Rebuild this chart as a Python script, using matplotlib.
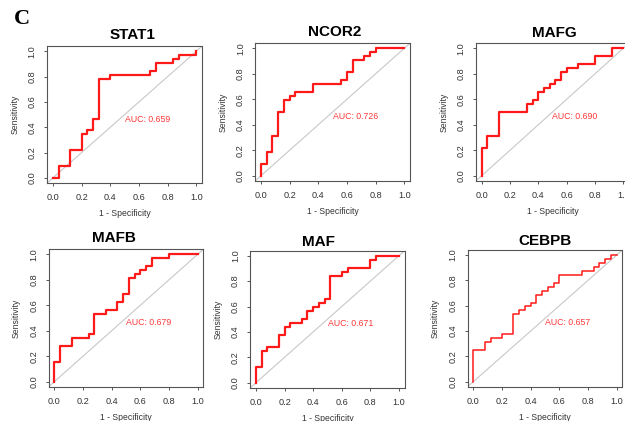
import numpy as np
import matplotlib
matplotlib.use("Agg")
import matplotlib.pyplot as plt

plt.rcParams['font.family'] = ['Liberation Sans', 'DejaVu Sans']

# ROC curves (1 - specificity, sensitivity)
stat1_fpr = [0, 0.04, 0.12, 0.20, 0.24, 0.28, 0.32, 0.40, 0.68, 0.72, 0.84, 0.88, 1.0]
stat1_tpr = [0, 0.094, 0.219, 0.344, 0.375, 0.469, 0.781, 0.812, 0.844, 0.906, 0.938, 0.969, 1.0]

ncor2_fpr = [0, 0, 0.04, 0.08, 0.12, 0.16, 0.20, 0.24, 0.36, 0.56, 0.60, 0.64, 0.72, 0.76, 0.80, 1.0]
ncor2_tpr = [0, 0.094, 0.188, 0.312, 0.5, 0.594, 0.625, 0.656, 0.719, 0.75, 0.812, 0.906, 0.938, 0.969, 1.0, 1.0]

mafg_fpr = [0, 0, 0.04, 0.12, 0.32, 0.36, 0.40, 0.44, 0.48, 0.52, 0.56, 0.60, 0.68, 0.80, 0.92, 1.0]
mafg_tpr = [0, 0.219, 0.312, 0.5, 0.562, 0.594, 0.656, 0.688, 0.719, 0.75, 0.812, 0.844, 0.875, 0.938, 1.0, 1.0]

mafb_fpr = [0, 0, 0.04, 0.12, 0.24, 0.28, 0.36, 0.44, 0.48, 0.52, 0.56, 0.60, 0.64, 0.68, 0.80, 1.0]
mafb_tpr = [0, 0.156, 0.281, 0.344, 0.375, 0.531, 0.562, 0.625, 0.688, 0.812, 0.844, 0.875, 0.906, 0.969, 1.0, 1.0]

maf_fpr = [0, 0, 0.04, 0.08, 0.16, 0.20, 0.24, 0.32, 0.36, 0.40, 0.44, 0.48, 0.52, 0.60, 0.64, 0.80, 0.84, 1.0]
maf_tpr = [0, 0.125, 0.25, 0.281, 0.375, 0.438, 0.469, 0.5, 0.562, 0.594, 0.625, 0.656, 0.844, 0.875, 0.906, 0.969, 1.0, 1.0]

cebpb_fpr = [0, 0, 0.08, 0.12, 0.20, 0.28, 0.32, 0.36, 0.40, 0.44, 0.48, 0.52, 0.56, 0.60, 0.76, 0.84, 0.88, 0.92, 0.96, 1.0]
cebpb_tpr = [0, 0.25, 0.312, 0.344, 0.375, 0.531, 0.562, 0.594, 0.625, 0.688, 0.719, 0.75, 0.781, 0.844, 0.875, 0.906, 0.938, 0.969, 1.0, 1.0]

genes = ['STAT1', 'NCOR2', 'MAFG', 'MAFB', 'MAF', 'CEBPB']
aucs = ['0.659', '0.726', '0.690', '0.679', '0.671', '0.657']
fprs = [stat1_fpr, ncor2_fpr, mafg_fpr, mafb_fpr, maf_fpr, cebpb_fpr]
tprs = [stat1_tpr, ncor2_tpr, mafg_tpr, mafb_tpr, maf_tpr, cebpb_tpr]
ticks = [0.0, 0.2, 0.4, 0.6, 0.8, 1.0]

# panel layout in pixels: x of 0, x of 1, y of 0, y of 1
W, H = 625, 421
anchors = [(52.8, 196.3, 178.0, 51.3),
           (261.0, 404.3, 175.7, 48.3),
           (481.7, 623.3, 175.7, 48.3),
           (54.3, 197.7, 381.7, 254.3),
           (256.0, 399.0, 382.7, 255.7),
           (473.3, 616.7, 381.7, 255.0)]
title_pos = [(133, 35), (335, 32), (554, 33), (114, 238), (318, 242), (545, 241)]
widths = [1.6, 1.6, 1.6, 1.6, 1.6, 1.1]

fig = plt.figure(figsize=(W / 100, H / 100), dpi=100)
grey = '#555555'

for i in range(6):
    x0, x1, y0, y1 = anchors[i]
    ux = x1 - x0
    uy = y0 - y1
    left = x0 - 0.04 * ux
    top = y1 - 0.04 * uy
    ax = fig.add_axes([left / W, 1 - (top + 1.08 * uy) / H, 1.08 * ux / W, 1.08 * uy / H])
    ax.set_xlim(-0.04, 1.04)
    ax.set_ylim(-0.04, 1.04)
    ax.plot([-0.1, 1.1], [-0.1, 1.1], color='#c8c8c8', lw=0.8)
    ax.step(fprs[i], tprs[i], where='post', color='#ff1a1a', lw=widths[i])
    ax.text(0.5, 0.5, 'AUC: ' + aucs[i], color='#ff3838', fontsize=6.3, ha='left', va='top')
    ax.set_xticks(ticks)
    ax.set_yticks(ticks)
    ax.set_xticklabels(['%.1f' % t for t in ticks])
    ax.set_yticklabels(['%.1f' % t for t in ticks], rotation=90, va='center')
    ax.tick_params(length=2.5, width=0.7, color=grey, labelsize=6.6, labelcolor='#333333', pad=5)
    for s in ax.spines.values():
        s.set_color(grey)
        s.set_linewidth(0.8)
    ax.set_xlabel('1 - Specificity', fontsize=6.2, color='#333333', labelpad=5)
    ax.set_ylabel('Sensitivity', fontsize=6.2, color='#333333', labelpad=6)
    tx, ty = title_pos[i]
    fig.text(tx / W, 1 - ty / H, genes[i], fontsize=11, fontweight='bold', ha='center', va='center')

fig.text(22 / W, 1 - 19 / H, 'C', fontsize=16, fontweight='bold', family='Liberation Serif',
         ha='center', va='center')

fig.savefig('out.png', dpi=100)
